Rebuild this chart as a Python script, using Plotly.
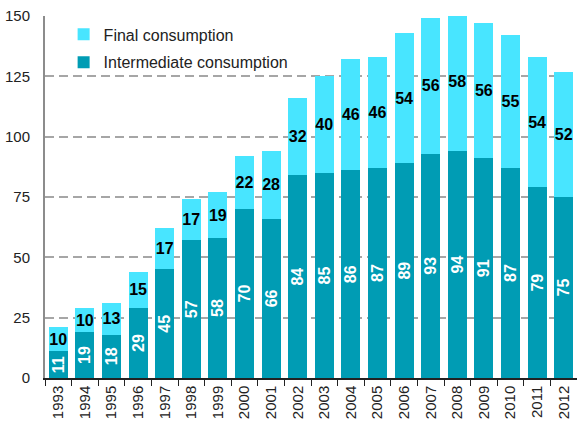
import plotly.graph_objects as go

years = [str(y) for y in range(1993, 2013)]
intermediate = [11, 19, 18, 29, 45, 57, 58, 70, 66, 84, 85, 86, 87, 89, 93, 94, 91, 87, 79, 75]
final = [10, 10, 13, 15, 17, 17, 19, 22, 28, 32, 40, 46, 46, 54, 56, 58, 56, 55, 54, 52]
y_ticks = [0, 25, 50, 75, 100, 125, 150]

DARK = "#009CB4"
LIGHT = "#48E5FF"
FONT = "Liberation Sans, Arial, sans-serif"

fig = go.Figure()
fig.add_trace(go.Bar(
    x=years, y=intermediate, name="Intermediate consumption",
    marker=dict(color=DARK, line=dict(width=0)),
    text=intermediate, texttemplate="<b>%{text}</b>", textposition="inside",
    insidetextanchor="middle", textangle=-90, constraintext="none",
    textfont=dict(color="white", size=16, family=FONT),
    legendgroup="b", legendrank=2,
))
fig.add_trace(go.Bar(
    x=years, y=final, name="Final consumption",
    marker=dict(color=LIGHT, line=dict(width=0)),
    text=final, texttemplate="<b>%{text}</b>", textposition="inside",
    insidetextanchor="middle", textangle=0, constraintext="none",
    textfont=dict(color="black", size=16, family=FONT),
    legendgroup="a", legendrank=1,
))

fig.update_layout(
    barmode="stack", bargap=0.28,
    width=577, height=423,
    margin=dict(l=45, r=0, t=16, b=45, autoexpand=False),
    paper_bgcolor="white", plot_bgcolor="white",
    font=dict(family=FONT, size=15, color="#222222"),
    showlegend=True,
    legend=dict(x=0.035, y=0.996, xanchor="left", yanchor="top",
                traceorder="grouped", tracegroupgap=4,
                bgcolor="rgba(0,0,0,0)", font=dict(size=16, color="#222222")),
)
fig.update_xaxes(
    type="category", tickangle=-90, showgrid=False,
    showline=True, linecolor="#222222", linewidth=1.5,
    ticks="outside", tickson="boundaries", ticklen=6, tickcolor="#222222",
    tickfont=dict(size=15, color="#222222"), automargin=False,
)
fig.update_yaxes(
    range=[0, 150], tickvals=y_ticks, showline=True, linecolor="#8C8C8C", linewidth=2,
    showgrid=True, gridcolor="#A6A6A6", gridwidth=2, griddash="9px,5px",
    ticks="outside", ticklen=10, tickcolor="rgba(0,0,0,0)",
    tickfont=dict(size=15, color="#222222"), zeroline=False, automargin=False,
)

fig.write_html("out.html", config={"displayModeBar": False},
               post_script="document.body.style.margin='0';")
